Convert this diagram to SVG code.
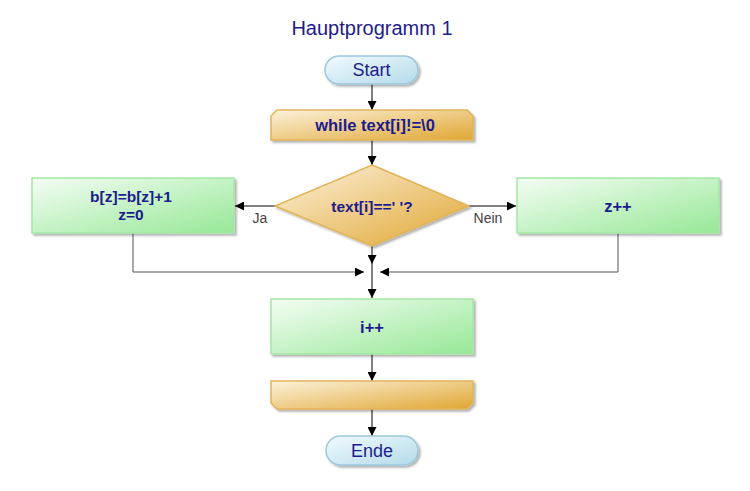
<svg xmlns="http://www.w3.org/2000/svg" width="750" height="491" viewBox="0 0 750 491">
<defs>
<linearGradient id="gGreen" x1="0" y1="0" x2="1" y2="1"><stop offset="0" stop-color="#f4fdf4"/><stop offset="1" stop-color="#96e896"/></linearGradient>
<linearGradient id="gOrange" x1="0" y1="0" x2="1" y2="1"><stop offset="0" stop-color="#fcf2dc"/><stop offset="1" stop-color="#e0a632"/></linearGradient>
<linearGradient id="gBlue" x1="0" y1="0" x2="1" y2="1"><stop offset="0" stop-color="#f2fafd"/><stop offset="1" stop-color="#b3dbea"/></linearGradient>
<marker id="arr" viewBox="0 0 10 10" refX="10" refY="5" markerWidth="9" markerHeight="9" markerUnits="userSpaceOnUse" orient="auto"><path d="M0,0 L10,5 L0,10 z" fill="#000"/></marker>
<filter id="sh" x="-10%" y="-10%" width="130%" height="140%"><feDropShadow dx="2" dy="2" stdDeviation="1" flood-color="#000" flood-opacity="0.3"/></filter>
</defs>
<style>
.green{fill:url(#gGreen);stroke:#a4e6a4;stroke-width:1.5;filter:url(#sh)}
.orange{fill:url(#gOrange);stroke:#e2b458;stroke-width:1.5;filter:url(#sh)}
.blue{fill:url(#gBlue);stroke:#9cc8dc;stroke-width:1.5;filter:url(#sh)}
.t{font-family:"Liberation Sans",Arial,sans-serif;fill:#1c1c8c;text-anchor:middle}
.b{font-weight:bold;font-size:15.5px}
.big{font-size:16.5px}
.lab{font-family:"Liberation Sans",Arial,sans-serif;fill:#444;font-size:14px;text-anchor:middle}
.ln{fill:none;stroke:#000;stroke-width:1}
.ln2{fill:none;stroke:#555;stroke-width:1}
</style>
<rect width="750" height="491" fill="#fff"/>
<text class="t" x="372" y="35" font-size="20">Hauptprogramm 1</text>
<g id="connectors">
<line class="ln" x1="372" y1="84" x2="372" y2="110" marker-end="url(#arr)"/>
<line class="ln" x1="372" y1="140" x2="372" y2="165" marker-end="url(#arr)"/>
<line class="ln" x1="276" y1="206" x2="235" y2="206" marker-end="url(#arr)"/>
<line class="ln" x1="468" y1="206" x2="516" y2="206" marker-end="url(#arr)"/>
<line class="ln" x1="372" y1="246" x2="372" y2="264" marker-end="url(#arr)"/>
<polyline class="ln2" points="133,233 133,272 364,272" marker-end="url(#arr)"/>
<polyline class="ln2" points="618,233 618,272 380,272" marker-end="url(#arr)"/>
<line class="ln" x1="372" y1="264" x2="372" y2="298" marker-end="url(#arr)"/>
<line class="ln" x1="372" y1="354" x2="372" y2="381" marker-end="url(#arr)"/>
<line class="ln" x1="372" y1="409" x2="372" y2="436" marker-end="url(#arr)"/>
<text class="lab" x="260" y="223">Ja</text>
<text class="lab" x="488" y="223">Nein</text>
</g>
<g id="start"><rect class="blue" x="325" y="56" width="93" height="28" rx="14"/><text class="t" x="371.5" y="76" font-size="18">Start</text></g>
<g id="while"><polygon class="orange" points="277,110 467,110 473,116 473,140 271,140 271,116"/><text class="t b big" x="375" y="131">while text[i]!=\0</text></g>
<g id="decision"><polygon class="orange" points="372,165 469,206 372,246 275,206"/><text class="t b" x="372" y="212">text[i]==' '?</text></g>
<g id="yes"><rect class="green" x="32" y="178" width="202" height="55"/><text class="t b" x="131" y="202">b[z]=b[z]+1</text><text class="t b" x="131" y="220">z=0</text></g>
<g id="no"><rect class="green" x="517" y="178" width="202" height="55"/><text class="t b big" x="618" y="212">z++</text></g>
<g id="inc"><rect class="green" x="271" y="299" width="202" height="55"/><text class="t b big" x="372" y="333">i++</text></g>
<g id="endloop"><polygon class="orange" points="271,381 473,381 473,403 467,409 277,409 271,403"/></g>
<g id="end"><rect class="blue" x="326" y="436" width="92" height="29" rx="14.5"/><text class="t" x="372" y="457" font-size="18">Ende</text></g>
</svg>
